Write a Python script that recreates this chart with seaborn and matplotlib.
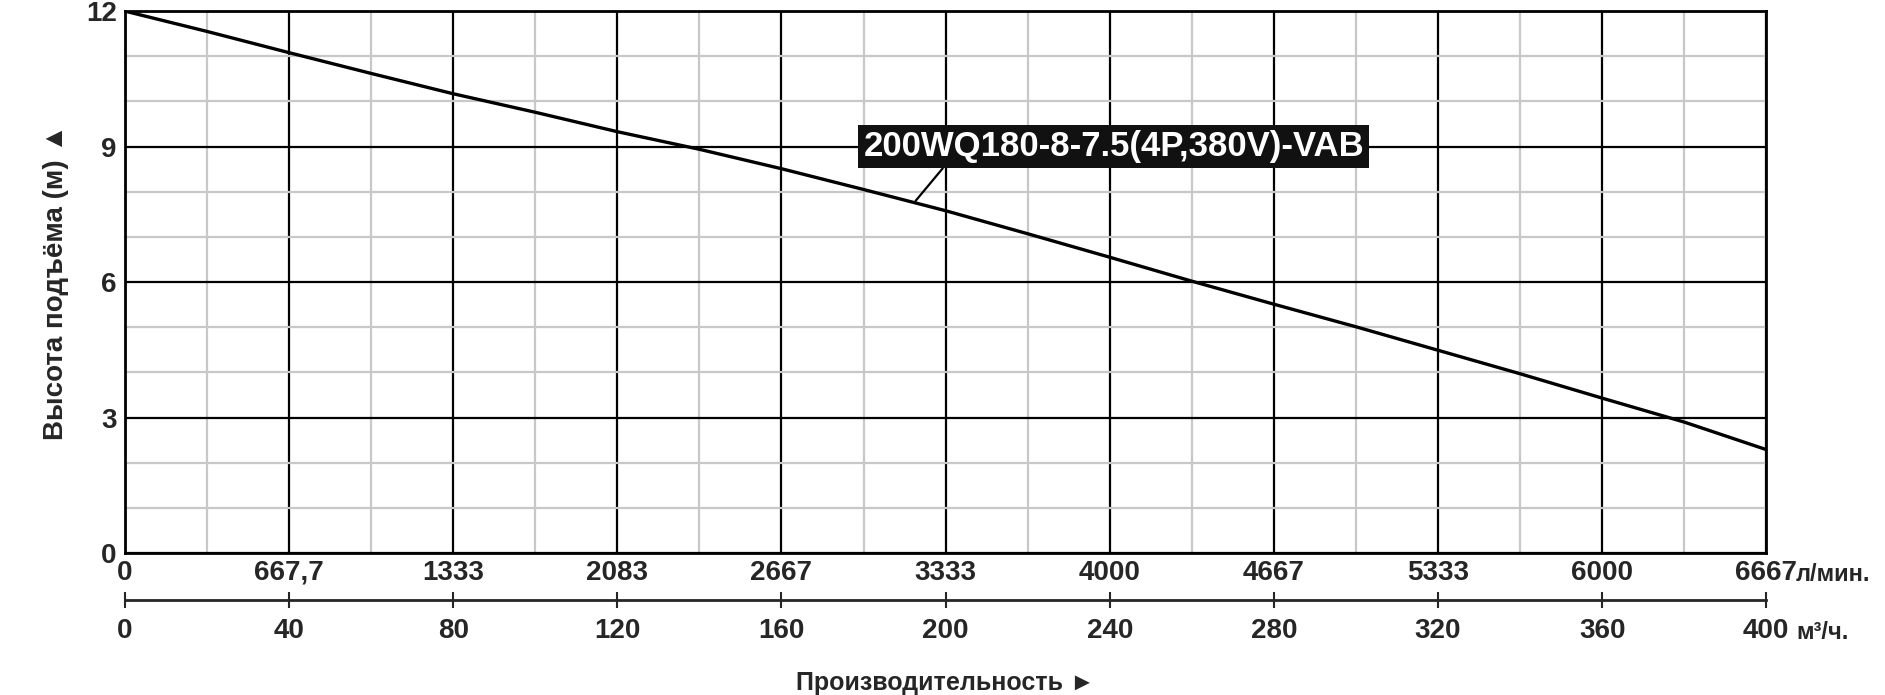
import numpy as np
import pandas as pd
import matplotlib
matplotlib.use("Agg")
import matplotlib.pyplot as plt
from matplotlib.ticker import MultipleLocator
import seaborn as sns

# Данные кривой (м³/ч -> напор, м)
flow_m3h = [0, 20, 40, 60, 80, 100, 120, 140, 160, 180, 200, 220, 240, 260, 280, 300, 320, 340, 360, 380, 400]
head_m = [12.0, 11.55, 11.08, 10.62, 10.17, 9.76, 9.33, 8.94, 8.51, 8.05, 7.58, 7.07, 6.55, 6.02,
          5.51, 5.01, 4.49, 3.97, 3.43, 2.9, 2.29]

flow_ticks = [0, 40, 80, 120, 160, 200, 240, 280, 320, 360, 400]
lpm_labels = ["0", "667,7", "1333", "2083", "2667", "3333", "4000", "4667", "5333", "6000", "6667"]
m3h_labels = ["0", "40", "80", "120", "160", "200", "240", "280", "320", "360", "400"]
head_ticks = [0, 3, 6, 9, 12]

model_name = "200WQ180-8-7.5(4P,380V)-VAB"

sns.set_style("white")
plt.rcParams['font.family'] = ['Liberation Sans Narrow', 'Liberation Sans', 'DejaVu Sans']
plt.rcParams['font.weight'] = 'bold'

df = pd.DataFrame({"flow": flow_m3h, "head": head_m})

fig = plt.figure(figsize=(18.85, 6.95), dpi=100)
ax = fig.add_axes([0.0663, 0.2043, 0.8707, 0.7797])

# сетка
ax.set_xlim(0, 400)
ax.set_ylim(0, 12)
ax.xaxis.set_major_locator(MultipleLocator(40))
ax.xaxis.set_minor_locator(MultipleLocator(20))
ax.yaxis.set_major_locator(MultipleLocator(3))
ax.yaxis.set_minor_locator(MultipleLocator(1))
ax.grid(which='minor', color='#c8c8c8', lw=1.6)
ax.grid(which='major', color='black', lw=1.6)
ax.set_axisbelow(True)
for s in ax.spines.values():
    s.set_color('black')
    s.set_linewidth(2)

sns.lineplot(data=df, x="flow", y="head", color='black', lw=2.4, ax=ax, zorder=5)

ax.set_xticks(flow_ticks)
ax.set_xticklabels(lpm_labels, fontsize=20, fontweight='bold')
ax.set_yticks(head_ticks)
ax.set_yticklabels([str(t) for t in head_ticks], fontsize=20, fontweight='bold')
ax.tick_params(axis='both', which='both', length=0)
ax.tick_params(axis='x', pad=5)
ax.tick_params(axis='y', pad=6)
ax.set_xlabel("")
ax.set_ylabel("Высота подъёма (м) ▲", fontsize=20, fontweight='bold', labelpad=12)

# вторая шкала м³/ч
sec = ax.secondary_xaxis(-0.087)
sec.set_xticks(flow_ticks)
sec.set_xticklabels(m3h_labels, fontsize=20, fontweight='bold')
sec.tick_params(direction='inout', length=11, width=1.5, pad=7)
sec.spines['bottom'].set_linewidth(2)
sec.set_xlabel("Производительность ►", fontsize=18, fontweight='bold', labelpad=20)

# единицы
ax.annotate("л/мин.", xy=(1.0, 0), xycoords='axes fraction', xytext=(30, -21),
            textcoords='offset pixels', ha='left', va='center', fontsize=17, fontweight='bold')
ax.annotate("м³/ч.", xy=(1.0, 0), xycoords='axes fraction', xytext=(30, -79),
            textcoords='offset pixels', ha='left', va='center', fontsize=17, fontweight='bold')

# подпись модели
ax.annotate(model_name, xy=(192.7, 7.8), xytext=(241, 9.0), ha='center', va='center',
            fontsize=25, fontweight='bold', color='white', zorder=10,
            bbox=dict(boxstyle='square,pad=0.15', fc='#111111', ec='none'),
            arrowprops=dict(arrowstyle='-', color='black', lw=1.6, shrinkA=0, shrinkB=0,
                            relpos=(0.167, 0.0)))

fig.savefig("out.png", dpi=100)
